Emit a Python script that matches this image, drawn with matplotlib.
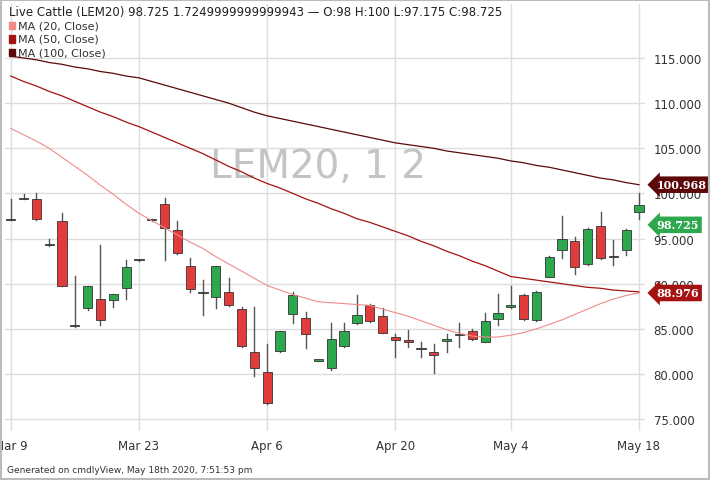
import matplotlib
matplotlib.use("Agg")
from matplotlib import pyplot as plt
from matplotlib.patches import Rectangle

# OHLC per trading day, index 0 = Mar 9
opens = [97.1, 99.4, 99.4, 94.3, 96.9, 85.3, 87.3, 88.3, 88.2, 89.5,
         92.6, 97.1, 98.8, 96.0, 92.0, 89.0, 88.5, 89.1, 87.2, 82.4,
         80.2, 82.5, 86.7, 86.2, 81.5, 80.7, 83.1, 85.6, 87.6, 86.4,
         84.1, 83.8, 82.8, 82.4, 83.7, 84.3, 84.8, 83.6, 86.1, 87.4,
         88.8, 86.0, 90.8, 93.7, 94.7, 92.2, 96.4, 93.0, 93.7, 98.0]
highs = [99.4, 99.9, 100.0, 94.9, 97.8, 90.9, 89.8, 94.3, 88.9, 92.6,
         92.6, 97.2, 99.5, 96.9, 92.8, 90.4, 92.0, 90.6, 87.4, 87.4,
         83.3, 84.8, 89.1, 86.9, 81.6, 85.7, 85.7, 88.7, 87.8, 87.3,
         84.4, 84.9, 83.6, 83.3, 84.4, 85.6, 85.0, 86.8, 88.9, 89.7,
         88.9, 89.2, 93.1, 97.5, 95.2, 96.2, 97.9, 94.8, 96.1, 100.0]
lows = [97.1, 99.4, 97.1, 94.2, 89.7, 85.2, 87.1, 85.4, 87.4, 88.3,
        92.5, 97.0, 92.6, 93.3, 89.1, 86.5, 87.3, 87.5, 83.0, 79.8,
        76.7, 82.4, 85.7, 82.9, 81.4, 80.5, 83.0, 85.5, 85.8, 84.5,
        81.9, 83.0, 81.9, 80.1, 82.4, 83.0, 83.8, 83.5, 85.4, 87.3,
        86.0, 85.9, 90.7, 92.8, 91.1, 92.1, 92.7, 92.1, 93.2, 97.175]
closes = [97.2, 99.5, 97.2, 94.3, 89.8, 85.3, 89.8, 86.0, 88.9, 91.9,
          92.6, 97.1, 96.2, 93.4, 89.4, 89.0, 92.0, 87.6, 83.1, 80.7,
          76.8, 84.8, 88.7, 84.4, 81.5, 83.9, 84.8, 86.5, 85.9, 84.6,
          83.8, 83.6, 82.8, 82.1, 83.9, 84.4, 83.9, 85.9, 86.8, 87.7,
          86.1, 89.1, 93.0, 95.0, 91.8, 96.1, 92.8, 93.0, 96.0, 98.725]

ma20 = [107.2, 106.5, 105.8, 105.0, 104.0, 103.0, 102.0, 100.9, 99.9, 98.8,
        97.8, 97.0, 96.2, 95.4, 94.6, 93.9, 93.0, 92.2, 91.4, 90.6,
        89.8, 89.3, 88.8, 88.4, 88.0, 87.9, 87.8, 87.7, 87.6, 87.2,
        86.8, 86.4, 85.9, 85.4, 84.9, 84.5, 84.2, 84.1, 84.1, 84.3,
        84.6, 85.0, 85.5, 86.0, 86.6, 87.2, 87.8, 88.3, 88.7, 88.976]
ma50 = [113.0, 112.4, 111.9, 111.3, 110.8, 110.2, 109.6, 109.0, 108.5, 107.9,
        107.4, 106.8, 106.2, 105.6, 105.0, 104.4, 103.7, 103.0, 102.4, 101.7,
        101.1, 100.6, 100.0, 99.4, 98.9, 98.3, 97.8, 97.2, 96.8, 96.3,
        95.8, 95.3, 94.7, 94.2, 93.6, 93.1, 92.5, 92.0, 91.4, 90.8,
        90.6, 90.4, 90.2, 90.0, 89.8, 89.6, 89.5, 89.3, 89.2, 89.1]
ma100 = [115.2, 115.0, 114.8, 114.5, 114.3, 114.0, 113.8, 113.5, 113.3, 113.0,
         112.8, 112.4, 112.0, 111.6, 111.2, 110.8, 110.4, 110.0, 109.5, 109.0,
         108.6, 108.3, 108.0, 107.7, 107.4, 107.1, 106.8, 106.5, 106.2, 105.9,
         105.6, 105.4, 105.2, 105.0, 104.7, 104.5, 104.3, 104.1, 103.9, 103.6,
         103.4, 103.1, 102.9, 102.6, 102.3, 102.0, 101.7, 101.5, 101.2, 100.968]

tick_pos = [0, 10, 20, 30, 39, 49]
tick_labels = ['Mar 9', 'Mar 23', 'Apr 6', 'Apr 20', 'May 4', 'May 18']
y_ticks = [75, 80, 85, 90, 95, 100, 105, 110, 115]

green, red = '#2ea84f', '#e23b3b'
c20, c50, c100 = '#f08a8a', '#a51212', '#5c0808'

fig = plt.figure(figsize=(7.1, 4.81), dpi=100)
ax = fig.add_axes([0.007, 0.102, 0.902, 0.888])

for i in range(len(opens)):
    o, h, l, c = opens[i], highs[i], lows[i], closes[i]
    col = green if c >= o else red
    ax.plot([i, i], [l, h], color='#555555', lw=1, zorder=2)
    body = max(abs(c - o), 0.12)
    ax.add_patch(Rectangle((i - 0.36, min(o, c)), 0.72, body, facecolor=col,
                           edgecolor='#333333', lw=0.6, zorder=3))

xs = list(range(len(opens)))
ax.plot(xs, ma20, color=c20, lw=0.8, zorder=4)
ax.plot(xs, ma50, color=c50, lw=0.9, zorder=4)
ax.plot(xs, ma100, color=c100, lw=0.9, zorder=4)

ax.set_xlim(-0.45, 49.5)
ax.set_ylim(73.7, 121)
ax.set_xticks(tick_pos)
ax.set_xticklabels(tick_labels, fontsize=8.5, color='#333333')
ax.set_yticks(y_ticks)
ax.set_yticklabels(['%.3f' % v for v in y_ticks], fontsize=8.5, color='#333333')
ax.yaxis.tick_right()
ax.tick_params(length=0, pad=6)
ax.grid(True, color='#dddddd', lw=1)
ax.set_axisbelow(True)
for s in ax.spines.values():
    s.set_visible(False)

ax.text(24, 103, 'LEM20, 1 2', fontsize=28, color='#c4c4c4', ha='center',
        va='center', zorder=1)

# price tags on right edge
for val, col in [(ma100[-1], c100), (closes[-1], green), (ma20[-1], c50)]:
    yv = val - 2.2 if col == green else val
    ax.annotate('%.3f' % val, xy=(49.5, yv), xycoords='data', xytext=(8, 0),
                textcoords='offset points', va='center', ha='left',
                fontsize=8, color='white', fontweight='bold', family='serif',
                bbox=dict(boxstyle='larrow,pad=0.25', fc=col, ec='none'),
                annotation_clip=False, zorder=6)

fig.text(0.012, 0.975, 'Live Cattle (LEM20) 98.725 1.7249999999999943 \u2014 '
         'O:98 H:100 L:97.175 C:98.725', fontsize=8.5, color='#222222', va='center')
for k, (name, col) in enumerate([('MA (20, Close)', c20), ('MA (50, Close)', c50),
                                 ('MA (100, Close)', c100)]):
    y = 0.945 - k * 0.028
    fig.patches.append(Rectangle((0.012, y - 0.008), 0.009, 0.016, color=col,
                                 transform=fig.transFigure, figure=fig))
    fig.text(0.026, y, name, fontsize=8, color='#333333', va='center')

fig.text(0.01, 0.022, 'Generated on cmdlyView, May 18th 2020, 7:51:53 pm',
         fontsize=6.5, color='#333333', va='center')
fig.patches.append(Rectangle((0.002, 0.002), 0.996, 0.996, fill=False, ec='#bbbbbb',
                             lw=1.5, transform=fig.transFigure, figure=fig))

fig.savefig('out.png', dpi=100)
